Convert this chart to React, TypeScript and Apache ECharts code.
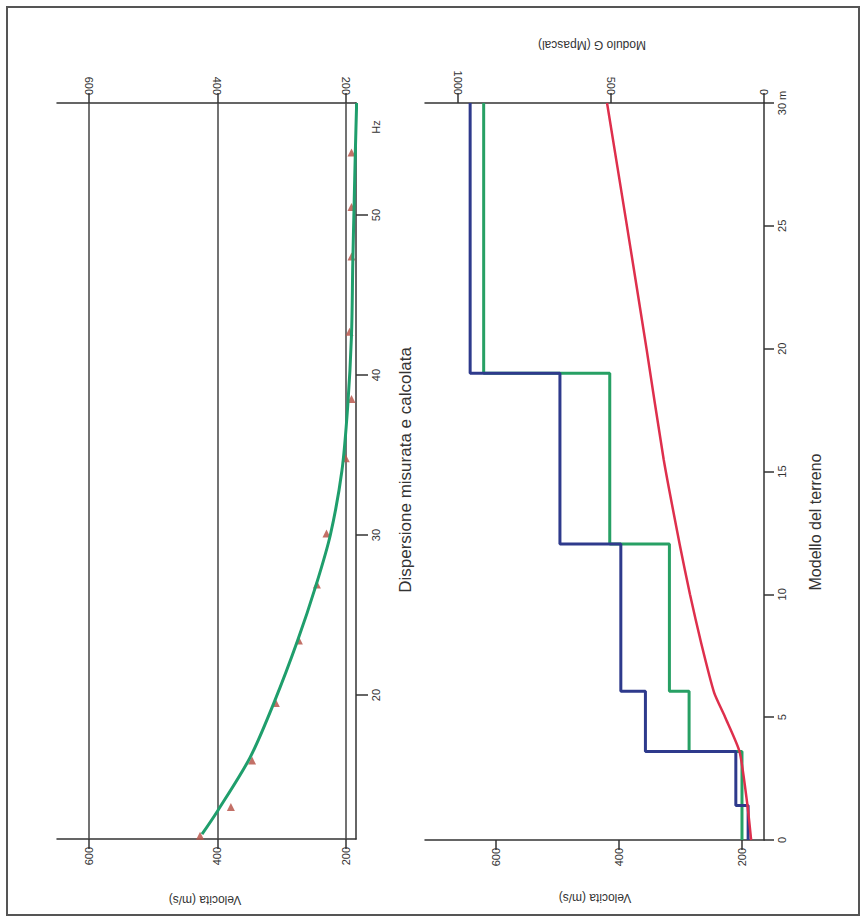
import React, { useEffect, useRef } from 'react';
import * as echarts from 'echarts';

// ---- Left panel: dispersion (frequency Hz vs velocity m/s)
const freqMeasured = [11.2, 13.0, 15.9, 19.5, 23.4, 26.9, 30.1, 34.8, 38.5, 42.7, 47.4, 50.5, 53.9];
const velMeasured = [427, 379, 346, 309, 273, 245, 230, 200, 191, 194, 191, 191, 191];
const freqCalc = [11.3, 12.8, 16.1, 19.6, 23.4, 26.9, 30.0, 34.0, 38.0, 42.5, 47.0, 50.5, 54.0, 57.0];
const velCalc = [424, 399, 349, 311, 275, 246, 224, 206, 197, 191, 189, 187, 185, 183];
const freqTicks = [20, 30, 40, 50];
const velTicks = [200, 400, 600];

// ---- Right panel: soil model (depth m vs velocity m/s and G modulus MPa)
const layerTop = [0, 1.4, 3.6, 6.05, 12.05, 19.0];
const layerBottom = [1.4, 3.6, 6.05, 12.05, 19.0, 30];
const vBlue = [190, 210, 357, 397, 496, 642];
const vGreen = [200, 200, 286, 318, 415, 620];
const depthG = [0, 1.5, 3.6, 5, 6, 8, 10, 12, 15.5, 20, 25, 30];
const modG = [42, 55, 80, 127, 163, 205, 242, 275, 328, 384, 448, 513];
const gTicks = [0, 500, 1000];

const FONT = '"Liberation Sans", Arial, sans-serif';
const AX = '#333';

function steps(v: number[]) {
  const pts: number[][] = [];
  v.forEach((val, i) => {
    pts.push([val, layerTop[i]]);
    pts.push([val, layerBottom[i]]);
  });
  return pts;
}

export default function App() {
  const ref = useRef<HTMLDivElement>(null);
  useEffect(() => {
    if (!ref.current) return;
    const chart = echarts.init(ref.current, null, { renderer: 'svg' });
    const labelStyle = { color: '#333', fontSize: 11, fontFamily: FONT, rotate: 90 };
    const xBase = (gridIndex: number, position: 'top' | 'bottom', min: number, max: number, ticks: number[]) => ({
      type: 'value',
      gridIndex,
      position,
      inverse: true,
      min,
      max,
      axisLine: { show: true, onZero: false, lineStyle: { color: AX, width: 1.5 } },
      axisTick: { show: true, inside: false, length: 10, customValues: ticks, lineStyle: { color: AX, width: 1.5 } },
      axisLabel: { ...labelStyle, margin: 8, customValues: ticks, formatter: (v: number) => String(v) },
      splitLine: { show: false },
    });
    const option: any = {
      animation: false,
      backgroundColor: '#ffffff',
      grid: [
        { left: 57, top: 103, width: 299, height: 736, containLabel: false },
        { left: 425, top: 103, width: 339, height: 737, containLabel: false },
      ],
      xAxis: [
        xBase(0, 'bottom', 184, 650, velTicks),
        xBase(0, 'top', 184, 650, velTicks),
        xBase(1, 'bottom', 164.2, 715.4, velTicks),
        xBase(1, 'top', 0, 1108, gTicks),
      ],
      yAxis: [
        {
          type: 'value',
          gridIndex: 0,
          position: 'right',
          min: 11,
          max: 57,
          axisLine: { show: true, lineStyle: { color: AX, width: 1.5 } },
          axisTick: { show: true, length: 12, customValues: freqTicks, lineStyle: { color: AX, width: 1.5 } },
          axisLabel: {
            ...labelStyle,
            margin: 14,
            customValues: [...freqTicks, 55.5],
            formatter: (v: number) => (v > 54 ? 'Hz' : String(v)),
          },
          splitLine: { show: false },
        },
        {
          type: 'value',
          gridIndex: 1,
          position: 'right',
          min: 0,
          max: 30,
          interval: 5,
          axisLine: { show: true, lineStyle: { color: AX, width: 1.5 } },
          axisTick: { show: true, length: 10, lineStyle: { color: AX, width: 1.5 } },
          axisLabel: {
            ...labelStyle,
            margin: 12,
            formatter: (v: number) => (v === 30 ? '30 m' : String(v)),
          },
          splitLine: { show: false },
        },
      ],
      series: [
        {
          name: 'calcolata',
          type: 'line',
          xAxisIndex: 0,
          yAxisIndex: 0,
          data: freqCalc.map((f, i) => [velCalc[i], f]),
          smooth: 0.3,
          showSymbol: false,
          clip: false,
          lineStyle: { color: '#1f9e6c', width: 3 },
          markLine: {
            silent: true,
            symbol: ['none', 'none'],
            label: { show: false },
            lineStyle: { color: '#444', width: 1.5, type: 'solid' },
            data: velTicks.map((v) => ({ xAxis: v })),
            z: 1,
          },
          z: 3,
        },
        {
          name: 'misurata',
          type: 'scatter',
          xAxisIndex: 0,
          yAxisIndex: 0,
          data: freqMeasured.map((f, i) => [velMeasured[i], f]),
          symbol: 'triangle',
          symbolSize: 8,
          itemStyle: { color: '#b9574c', opacity: 0.85 },
          z: 2,
        },
        {
          name: 'Vp',
          type: 'line',
          xAxisIndex: 2,
          yAxisIndex: 1,
          data: steps(vBlue),
          showSymbol: false,
          lineStyle: { color: '#2e3a8c', width: 3 },
          z: 3,
        },
        {
          name: 'Vs',
          type: 'line',
          xAxisIndex: 2,
          yAxisIndex: 1,
          data: steps(vGreen),
          showSymbol: false,
          lineStyle: { color: '#27a064', width: 3 },
          z: 2,
        },
        {
          name: 'G',
          type: 'line',
          xAxisIndex: 3,
          yAxisIndex: 1,
          data: depthG.map((d, i) => [modG[i], d]),
          smooth: 0.2,
          showSymbol: false,
          lineStyle: { color: '#de2f4c', width: 2.5 },
          z: 4,
        },
      ],
      graphic: [
        {
          type: 'rect',
          shape: { x: 7, y: 7, width: 852, height: 908 },
          style: { fill: 'none', stroke: '#555', lineWidth: 2 },
          silent: true,
        },
        {
          type: 'text',
          x: 405,
          y: 470,
          rotation: Math.PI / 2,
          style: { text: 'Dispersione misurata e calcolata', fill: '#333', font: `17px ${FONT}`, textAlign: 'center', textVerticalAlign: 'middle' },
        },
        {
          type: 'text',
          x: 815,
          y: 522,
          rotation: Math.PI / 2,
          style: { text: 'Modello del terreno', fill: '#333', font: `16px ${FONT}`, textAlign: 'center', textVerticalAlign: 'middle' },
        },
        {
          type: 'text',
          x: 592,
          y: 45,
          rotation: Math.PI,
          style: { text: 'Modulo G (Mpascal)', fill: '#333', font: `12px ${FONT}`, textAlign: 'center', textVerticalAlign: 'middle' },
        },
        {
          type: 'text',
          x: 205,
          y: 900,
          rotation: Math.PI,
          style: { text: 'Velocita (m/s)', fill: '#333', font: `12px ${FONT}`, textAlign: 'center', textVerticalAlign: 'middle' },
        },
        {
          type: 'text',
          x: 595,
          y: 898,
          rotation: Math.PI,
          style: { text: 'Velocita (m/s)', fill: '#333', font: `12px ${FONT}`, textAlign: 'center', textVerticalAlign: 'middle' },
        },
      ],
    };
    chart.setOption(option);
    return () => chart.dispose();
  }, []);
  return (
    <div
      ref={ref}
      style={{ position: 'absolute', left: 0, top: 0, width: 865, height: 922 }}
    />
  );
}
